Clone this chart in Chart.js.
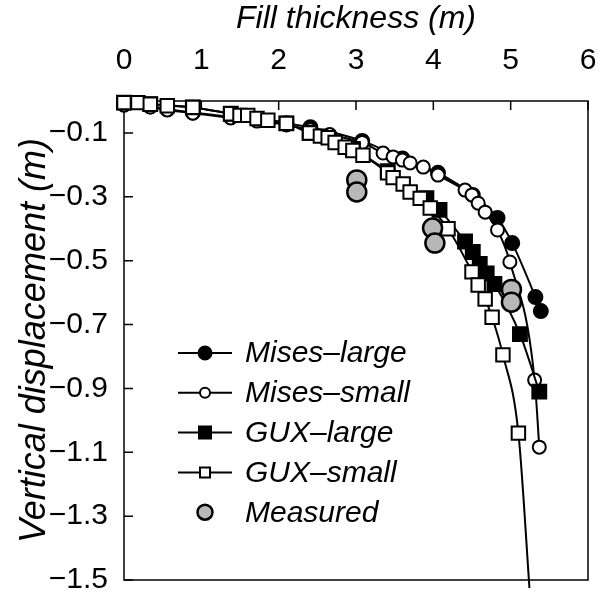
<!DOCTYPE html>
<html>
<head>
<meta charset="utf-8">
<script src="https://cdn.jsdelivr.net/npm/chart.js@4/dist/chart.umd.min.js"></script>
<style>
  html, body { margin: 0; padding: 0; background: #fff; }
</style>
</head>
<body>
<canvas id="chart" width="608" height="592"></canvas>
<script>
const xTicks = [0, 1, 2, 3, 4, 5, 6]
const yTicks = [-0.1, -0.3, -0.5, -0.7, -0.9, -1.1, -1.3, -1.5]

const misesLargeX = [0, 0.34, 0.56, 0.89, 1.38, 2.10, 2.41, 3.08, 3.60, 4.06, 4.51, 4.83, 5.02, 5.32, 5.39]
const misesLargeY = [-0.01, -0.017, -0.026, -0.036, -0.05, -0.07, -0.082, -0.125, -0.18, -0.225, -0.294, -0.366, -0.445, -0.614, -0.658]

const misesSmallX = [0, 0.34, 0.56, 0.89, 1.38, 1.72, 2.10, 2.41, 2.66, 3.08, 3.35, 3.48, 3.60, 3.70, 3.87, 4.06, 4.41, 4.50, 4.58, 4.67, 4.83, 4.99, 5.31, 5.37]
const misesSmallY = [-0.013, -0.019, -0.028, -0.038, -0.053, -0.063, -0.075, -0.09, -0.105, -0.13, -0.163, -0.175, -0.185, -0.194, -0.207, -0.232, -0.279, -0.294, -0.32, -0.348, -0.404, -0.504, -0.874, -1.084]

const guxLargeX = [0, 0.34, 0.89, 1.38, 2.10, 2.40, 2.96, 3.41, 3.91, 4.08, 4.41, 4.51, 4.60, 4.69, 4.79, 5.12, 5.37]
const guxLargeY = [-0.005, -0.01, -0.02, -0.04, -0.07, -0.10, -0.15, -0.22, -0.304, -0.341, -0.44, -0.473, -0.51, -0.54, -0.573, -0.73, -0.91]

const guxSmallX = [0, 0.18, 0.34, 0.56, 0.89, 1.38, 1.50, 1.60, 1.72, 1.86, 2.10, 2.40, 2.54, 2.64, 2.73, 2.86, 2.96, 3.09, 3.41, 3.48, 3.61, 3.70, 3.83, 3.96, 4.19, 4.50, 4.58, 4.67, 4.76, 4.90, 5.10, 5.25]
const guxSmallY = [-0.005, -0.005, -0.01, -0.015, -0.02, -0.04, -0.045, -0.045, -0.055, -0.06, -0.07, -0.10, -0.11, -0.115, -0.13, -0.145, -0.155, -0.17, -0.225, -0.24, -0.26, -0.285, -0.305, -0.335, -0.40, -0.535, -0.576, -0.62, -0.677, -0.795, -1.04, -1.55]

const measuredX = [3.01, 3.01, 3.99, 4.02, 5.01, 5.01]
const measuredY = [-0.247, -0.285, -0.398, -0.445, -0.59, -0.63]

const FONT = '"Liberation Sans", Arial, Helvetica, sans-serif'

const pts = (xs, ys) => xs.map((x, i) => ({ x, y: ys[i] }))

// plot frame + inward tick marks, drawn under the markers
const framePlugin = {
  id: 'frame',
  beforeDatasetsDraw(chart) {
    const { ctx, chartArea: a, scales } = chart
    ctx.save()
    ctx.strokeStyle = '#000'
    ctx.lineWidth = 1.5
    ctx.strokeRect(a.left, a.top, a.right - a.left, a.bottom - a.top)
    ctx.beginPath()
    xTicks.forEach(v => {
      const px = scales.x.getPixelForValue(v)
      ctx.moveTo(px, a.top)
      ctx.lineTo(px, a.top + 9)
    })
    yTicks.forEach(v => {
      const py = scales.y.getPixelForValue(v)
      ctx.moveTo(a.left, py)
      ctx.lineTo(a.left + 9, py)
    })
    ctx.stroke()
    ctx.restore()
  }
}

function marker(ctx, style, x, y, r, fill, stroke, lw) {
  ctx.beginPath()
  if (style === 'rect') {
    ctx.rect(x - r, y - r, 2 * r, 2 * r)
  } else {
    ctx.arc(x, y, r, 0, Math.PI * 2)
  }
  ctx.fillStyle = fill
  ctx.fill()
  ctx.lineWidth = lw
  ctx.strokeStyle = stroke
  ctx.stroke()
}

// legend sits inside the plot, lower left
const insideLegend = {
  id: 'insideLegend',
  afterDraw(chart) {
    const { ctx } = chart
    ctx.save()
    chart.data.datasets.forEach((ds, i) => {
      const y = 353 + i * 39.8
      if (ds.showLine !== false) {
        ctx.beginPath()
        ctx.moveTo(178, y)
        ctx.lineTo(232, y)
        ctx.lineWidth = 2
        ctx.strokeStyle = '#000'
        ctx.stroke()
      }
      marker(ctx, ds.pointStyle, 205, y, ds.legendSize, ds.backgroundColor, '#000', ds.borderWidth)
      ctx.fillStyle = '#000'
      ctx.font = 'italic 30px ' + FONT
      ctx.textBaseline = 'middle'
      ctx.textAlign = 'left'
      ctx.fillText(ds.label, 245, y + 1)
    })
    ctx.restore()
  }
}

const lineSet = (label, data, style, fill, radius, legendSize, order) => ({
  label, data, order,
  pointStyle: style,
  pointRadius: data.map(p => (p.y < -1.5 ? 0 : radius)),
  backgroundColor: fill,
  pointBackgroundColor: fill,
  borderColor: '#000',
  pointBorderColor: '#000',
  borderWidth: 2,
  pointBorderWidth: 2,
  cubicInterpolationMode: 'monotone',
  clip: { left: 10, top: 12, right: 10, bottom: 8 },
  legendSize,
})

new Chart(document.getElementById('chart'), {
  type: 'scatter',
  data: {
    datasets: [
      lineSet('Mises–large', pts(misesLargeX, misesLargeY), 'circle', '#000', 7, 6.5, 4),
      lineSet('Mises–small', pts(misesSmallX, misesSmallY), 'circle', '#fff', 6.5, 5, 3),
      lineSet('GUX–large', pts(guxLargeX, guxLargeY), 'rect', '#000', 9.8, 6, 2),
      lineSet('GUX–small', pts(guxSmallX, guxSmallY), 'rect', '#fff', 9.5, 5, 1),
      {
        label: 'Measured',
        data: pts(measuredX, measuredY),
        order: 0,
        showLine: false,
        pointStyle: 'circle',
        pointRadius: 9.5,
        backgroundColor: '#b8b8b8',
        borderColor: '#000',
        borderWidth: 2.5,
        clip: { left: 10, top: 12, right: 10, bottom: 8 },
        legendSize: 7.5,
      },
    ],
  },
  options: {
    responsive: false,
    animation: false,
    showLine: true,
    layout: { padding: { top: 0, right: 20, bottom: 12, left: 0 } },
    plugins: {
      legend: { display: false },
      tooltip: { enabled: false },
    },
    scales: {
      x: {
        type: 'linear',
        position: 'top',
        min: 0,
        max: 6,
        afterBuildTicks: axis => { axis.ticks = xTicks.map(v => ({ value: v })) },
        afterFit: axis => {
          axis.height = 101
          axis.paddingLeft = 0
          axis.paddingRight = 0
        },
        grid: { display: false, drawTicks: false },
        border: { display: false },
        ticks: { color: '#000', padding: 22, maxRotation: 0, font: { family: FONT, size: 30 } },
        title: {
          display: true,
          text: 'Fill thickness (m)',
          color: '#000',
          padding: 0,
          font: { family: FONT, size: 32, style: 'italic' },
        },
      },
      y: {
        type: 'linear',
        min: -1.5,
        max: 0,
        afterBuildTicks: axis => { axis.ticks = yTicks.map(v => ({ value: v })) },
        afterFit: axis => {
          axis.width = 124
          axis.paddingTop = 0
          axis.paddingBottom = 0
        },
        grid: { display: false, drawTicks: false },
        border: { display: false },
        ticks: {
          color: '#000',
          padding: 16,
          font: { family: FONT, size: 30 },
          callback: v => String(v).replace('-', '\u2212'),
        },
        title: {
          display: true,
          text: 'Vertical displacement (m)',
          color: '#000',
          padding: { top: 13, bottom: 0 },
          font: { family: FONT, size: 36, style: 'italic' },
        },
      },
    },
  },
  plugins: [framePlugin, insideLegend],
})
</script>
</body>
</html>
